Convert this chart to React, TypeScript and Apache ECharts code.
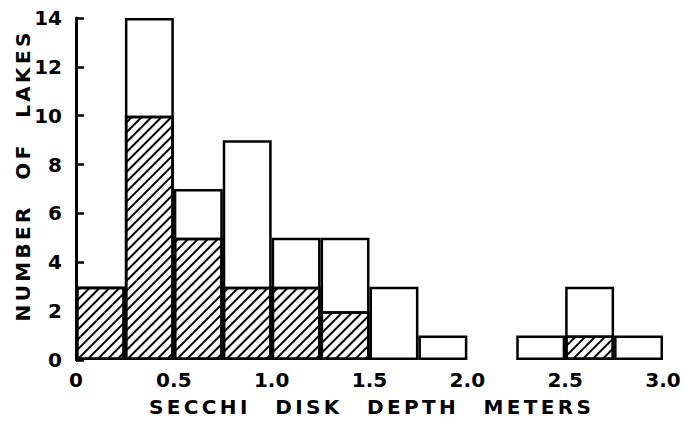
import React, { useEffect, useRef } from "react";
import * as echarts from "echarts";

const binLabels = ["0-0.25", "0.25-0.5", "0.5-0.75", "0.75-1.0", "1.0-1.25", "1.25-1.5", "1.5-1.75", "1.75-2.0", "2.0-2.25", "2.25-2.5", "2.5-2.75", "2.75-3.0"];
const totalLakes: (number | string)[] = [3, 14, 7, 9, 5, 5, 3, 1, "-", 1, 3, 1];
const hatchedLakes: (number | string)[] = [3, 10, 5, 3, 3, 2, "-", "-", "-", "-", 1, "-"];
const xTicks = [0, 0.5, 1.0, 1.5, 2.0, 2.5, 3.0];
const yTicks = [0, 2, 4, 6, 8, 10, 12, 14];
const xTitleWords = ["SECCHI", "DISK", "DEPTH", "METERS"];
const yTitleWords = ["NUMBER", "OF", "LAKES"];

const FONT = "DejaVu Sans";
const GAP = "\u2006";
const spaced = (words: string[]) => words.map((w) => w.split("").join(GAP)).join("    ");

export default function App() {
  const ref = useRef<HTMLDivElement>(null);
  useEffect(() => {
    if (!ref.current) return;
    const chart = echarts.init(ref.current, null, { renderer: "svg" });
    chart.setOption({
      animation: false,
      backgroundColor: "#fff",
      grid: { left: 76, right: 23, top: 18, bottom: 74 },
      xAxis: [
        {
          type: "category",
          data: binLabels,
          show: false,
          boundaryGap: true,
        },
        {
          type: "value",
          min: xTicks[0],
          max: xTicks[xTicks.length - 1],
          interval: 0.5,
          position: "bottom",
          axisLine: { show: false },
          axisTick: { show: false },
          splitLine: { show: false },
          axisLabel: {
            margin: 10,
            color: "#000",
            fontFamily: FONT,
            fontWeight: "bold",
            fontSize: 20,
            formatter: (v: number) => (v === 0 ? "0" : v.toFixed(1)),
          },
        },
      ],
      yAxis: {
        type: "value",
        min: yTicks[0],
        max: yTicks[yTicks.length - 1],
        interval: 2,
        axisLine: { show: true, lineStyle: { color: "#000", width: 3 } },
        axisTick: { show: true, inside: true, length: 8, lineStyle: { color: "#000", width: 2.5 } },
        splitLine: { show: false },
        axisLabel: {
          margin: 14,
          color: "#000",
          fontFamily: FONT,
          fontWeight: "bold",
          fontSize: 20,
        },
      },
      series: [
        {
          type: "bar",
          xAxisIndex: 0,
          data: totalLakes,
          barCategoryGap: 0,
          barGap: "-100%",
          itemStyle: { color: "#fff", borderColor: "#000", borderWidth: 2.5, decal: "none" },
        },
        {
          type: "bar",
          xAxisIndex: 0,
          data: hatchedLakes,
          barCategoryGap: 0,
          barGap: "-100%",
          itemStyle: {
            color: "#fff",
            borderColor: "#000",
            borderWidth: 2.5,
            decal: {
              symbol: "rect",
              symbolSize: 1,
              color: "#000",
              backgroundColor: "#fff",
              dashArrayX: [1, 0],
              dashArrayY: [2, 5],
              rotation: -Math.PI / 4,
            },
          },
        },
      ],
      graphic: [
        {
          type: "text",
          x: 370,
          y: 407,
          style: {
            text: spaced(xTitleWords),
            font: `bold 20px "${FONT}"`,
            fill: "#000",
            align: "center",
            verticalAlign: "middle",
          },
        },
        {
          type: "text",
          x: 23,
          y: 177,
          rotation: Math.PI / 2,
          style: {
            text: spaced(yTitleWords),
            font: `bold 20px "${FONT}"`,
            fill: "#000",
            align: "center",
            verticalAlign: "middle",
          },
        },
      ],
    });
    return () => chart.dispose();
  }, []);
  return <div ref={ref} style={{ position: "absolute", left: 0, top: 0, width: 686, height: 434 }} />;
}
